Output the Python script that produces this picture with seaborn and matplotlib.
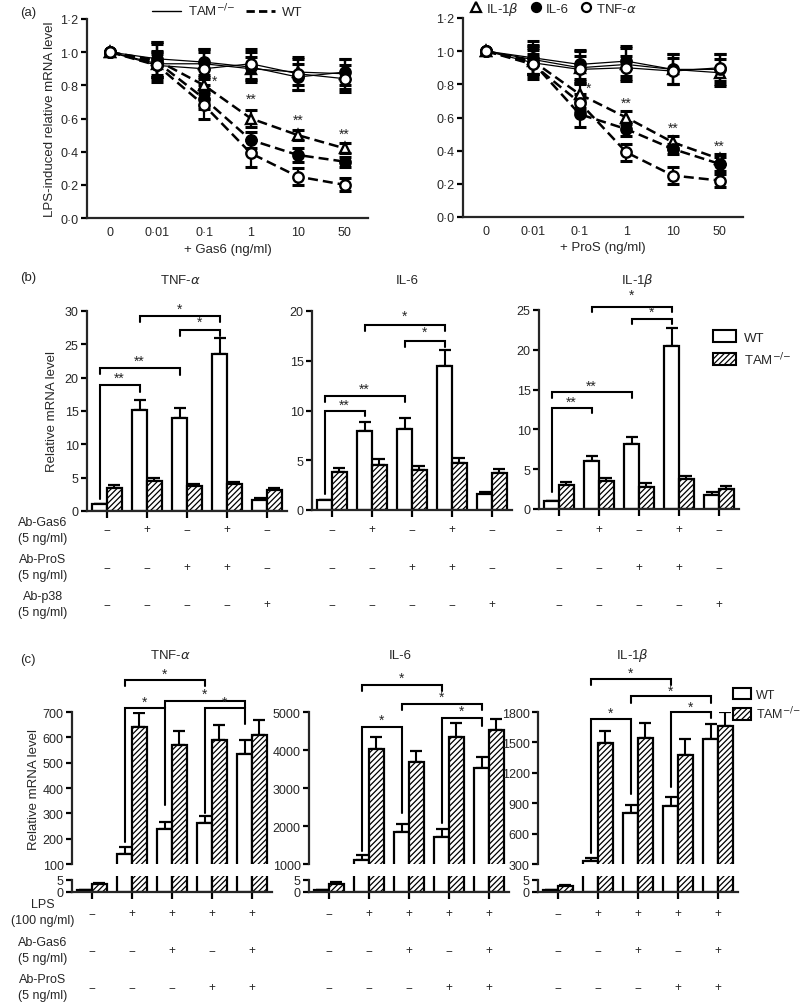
import numpy as np
import pandas as pd
import matplotlib
matplotlib.use('Agg')
import matplotlib.pyplot as plt
import matplotlib.transforms as mtransforms
from matplotlib.lines import Line2D
from matplotlib.patches import Patch
import seaborn as sns

sns.set_style('ticks')
plt.rcParams['font.family'] = ['Liberation Sans', 'DejaVu Sans']
plt.rcParams['hatch.linewidth'] = 0.9
plt.rcParams['axes.linewidth'] = 1.6

# ---------------- data: panel (a) ----------------
doses = ['0', '0·01', '0·1', '1', '10', '50']

gas6_wt_il1b = [1.0, 0.95, 0.80, 0.60, 0.50, 0.42]
gas6_wt_il1b_err = [0.0, 0.10, 0.05, 0.05, 0.03, 0.03]
gas6_wt_il6 = [1.0, 0.94, 0.72, 0.47, 0.38, 0.34]
gas6_wt_il6_err = [0.0, 0.12, 0.06, 0.05, 0.04, 0.03]
gas6_wt_tnf = [1.0, 0.92, 0.68, 0.39, 0.25, 0.20]
gas6_wt_tnf_err = [0.0, 0.08, 0.08, 0.08, 0.05, 0.04]
gas6_tam_il1b = [1.0, 0.93, 0.93, 0.90, 0.88, 0.87]
gas6_tam_il1b_err = [0.0, 0.08, 0.09, 0.07, 0.08, 0.09]
gas6_tam_il6 = [1.0, 0.96, 0.94, 0.91, 0.85, 0.88]
gas6_tam_il6_err = [0.0, 0.10, 0.08, 0.09, 0.08, 0.08]
gas6_tam_tnf = [1.0, 0.92, 0.90, 0.93, 0.87, 0.84]
gas6_tam_tnf_err = [0.0, 0.07, 0.10, 0.09, 0.10, 0.08]

pros_wt_il1b = [1.0, 0.94, 0.74, 0.60, 0.45, 0.35]
pros_wt_il1b_err = [0.0, 0.08, 0.08, 0.04, 0.04, 0.03]
pros_wt_il6 = [1.0, 0.93, 0.62, 0.53, 0.41, 0.32]
pros_wt_il6_err = [0.0, 0.10, 0.08, 0.04, 0.03, 0.04]
pros_wt_tnf = [1.0, 0.92, 0.69, 0.39, 0.25, 0.22]
pros_wt_tnf_err = [0.0, 0.06, 0.05, 0.05, 0.05, 0.04]
pros_tam_il1b = [1.0, 0.95, 0.90, 0.92, 0.89, 0.87]
pros_tam_il1b_err = [0.0, 0.09, 0.10, 0.10, 0.09, 0.08]
pros_tam_il6 = [1.0, 0.96, 0.92, 0.94, 0.89, 0.89]
pros_tam_il6_err = [0.0, 0.10, 0.09, 0.09, 0.09, 0.09]
pros_tam_tnf = [1.0, 0.93, 0.89, 0.90, 0.88, 0.90]
pros_tam_tnf_err = [0.0, 0.08, 0.08, 0.07, 0.08, 0.08]

gas6_stars = [(2.22, 0.83, '*'), (3, 0.72, '**'), (4, 0.59, '**'), (5, 0.51, '**')]
pros_stars = [(2.19, 0.78, '*'), (3, 0.69, '**'), (4, 0.54, '**'), (5, 0.43, '**')]

# ---------------- data: panel (b) ----------------
groups_b = ['g1', 'g2', 'g3', 'g4', 'g5']
b_tnf_wt = [1.0, 15.2, 14.0, 23.5, 1.7]
b_tnf_wt_err = [0.0, 1.5, 1.5, 2.5, 0.2]
b_tnf_tam = [3.5, 4.5, 3.7, 4.0, 3.2]
b_tnf_tam_err = [0.4, 0.5, 0.4, 0.4, 0.3]
b_il6_wt = [1.0, 7.9, 8.1, 14.5, 1.6]
b_il6_wt_err = [0.0, 0.9, 1.1, 1.6, 0.2]
b_il6_tam = [3.8, 4.5, 4.0, 4.7, 3.7]
b_il6_tam_err = [0.4, 0.6, 0.4, 0.5, 0.45]
b_il1b_wt = [1.0, 6.0, 8.2, 20.5, 1.8]
b_il1b_wt_err = [0.0, 0.6, 0.9, 2.3, 0.3]
b_il1b_tam = [3.0, 3.5, 2.8, 3.8, 2.5]
b_il1b_tam_err = [0.4, 0.4, 0.5, 0.4, 0.4]

b_gas6 = ['−', '+', '−', '+', '−']
b_pros = ['−', '−', '+', '+', '−']
b_p38 = ['−', '−', '−', '−', '+']

# brackets: (bar i, bar j, top, left end, right end, label, label y)
b_tnf_brackets = [(0, 1, 18.9, 1.8, 17.9, '**', 20.0), (0, 2, 21.5, 20.6, 20.4, '**', 22.6),
                  (1, 3, 29.2, 28.3, 28.3, '*', 30.4), (2, 3, 27.2, 26.3, 26.3, '*', 28.4)]
b_il6_brackets = [(0, 1, 10.0, 1.6, 9.4, '**', 10.6), (0, 2, 11.5, 10.9, 10.9, '**', 12.2),
                  (1, 3, 18.6, 18.0, 18.0, '*', 19.5), (2, 3, 17.0, 16.4, 16.4, '*', 17.9)]
b_il1b_brackets = [(0, 1, 12.7, 2.1, 12.0, '**', 13.5), (0, 2, 14.7, 13.9, 13.9, '**', 15.5),
                   (1, 3, 25.4, 24.7, 24.7, '*', 26.9), (2, 3, 23.9, 23.3, 23.3, '*', 24.8)]

# ---------------- data: panel (c) ----------------
c_tnf_wt = [0.8, 140, 240, 260, 535]
c_tnf_wt_err = [0.1, 28, 25, 30, 55]
c_tnf_tam = [3.3, 640, 570, 590, 610]
c_tnf_tam_err = [0.6, 55, 55, 60, 60]
c_il6_wt = [0.8, 1100, 1850, 1720, 3520]
c_il6_wt_err = [0.1, 130, 200, 200, 300]
c_il6_tam = [3.4, 4020, 3680, 4350, 4520]
c_il6_tam_err = [0.6, 320, 300, 350, 300]
c_il1b_wt = [0.8, 330, 800, 870, 1530]
c_il1b_wt_err = [0.1, 30, 80, 90, 150]
c_il1b_tam = [2.5, 1490, 1540, 1380, 1660]
c_il1b_tam_err = [0.4, 120, 150, 150, 140]

c_lps = ['−', '+', '+', '+', '+']
c_gas6 = ['−', '−', '+', '−', '+']
c_pros = ['−', '−', '−', '+', '+']

c_tnf_brackets = [(1, 3, 826, 803, 803, '*', 850), (2, 4, 742, 716, 716, '*', 772),
                  (1, 2, 716, 185, 331, '*', 742), (3, 4, 716, 300, 654, '*', 740)]
c_il6_brackets = [(1, 3, 5708, 5557, 5557, '*', 5910), (2, 4, 5204, 5044, 5044, '*', 5400),
                  (1, 2, 4611, 1350, 2354, '*', 4805), (3, 4, 4832, 2088, 4628, '*', 5030)]
c_il1b_brackets = [(1, 3, 2121, 2065, 2065, '*', 2187), (2, 4, 1956, 1889, 1889, '*', 2009),
                   (1, 2, 1734, 409, 989, '*', 1790), (3, 4, 1800, 1055, 1740, '*', 1856)]

TAM_LABEL = 'TAM$^{-/{-}}$'

# ---------------- layout helpers ----------------
W, H = 800, 1003
fig = plt.figure(figsize=(W / 100, H / 100), dpi=100)


def box(l, t, r, b):
    return [l / W, 1 - b / H, (r - l) / W, (b - t) / H]


def style_ax(ax):
    sns.despine(ax=ax)
    ax.tick_params(direction='out', length=4, width=1.6, labelsize=9, pad=2, color='black')
    for s in ax.spines.values():
        s.set_linewidth(1.6)


def draw_bracket(ax, xs, br):
    i, j, top, yl, yr, lab, ys = br
    ax.plot([xs[i], xs[i], xs[j], xs[j]], [yl, top, top, yr], color='black', lw=1.5,
            clip_on=False, solid_joinstyle='miter')
    ax.text((xs[i] + xs[j]) / 2, ys, lab, ha='center', va='center', fontsize=10, clip_on=False)


# ---------------- panel (a) ----------------
def plot_dose(ax, series, stars, xlabel):
    for vals, errs, marker, face, geno in series:
        d = pd.DataFrame({'dose': np.arange(len(doses)), 'value': vals})
        ax.errorbar(d['dose'], d['value'], yerr=errs, fmt='none', ecolor='black',
                    elinewidth=1.6, capsize=4.5, capthick=2.2, zorder=2)
        sns.lineplot(data=d, x='dose', y='value', ax=ax, color='black',
                     linewidth=1.8 if geno == 'WT' else 0.9,
                     linestyle=(0, (4, 2)) if geno == 'WT' else '-',
                     marker=marker, markersize=7.5, markerfacecolor=face,
                     markeredgecolor='black', markeredgewidth=1.7, zorder=3)
    for x, y, s in stars:
        ax.text(x, y, s, ha='center', va='center', fontsize=10)
    ax.set_xlim(-0.5, 5.5)
    ax.set_ylim(0, 1.2)
    ax.set_xticks(range(len(doses)))
    ax.set_xticklabels(doses)
    yt = np.round(np.arange(0, 1.21, 0.2), 1)
    ax.set_yticks(yt)
    ax.set_yticklabels([f'{v:.1f}'.replace('.', '·') for v in yt])
    ax.set_xlabel(xlabel, fontsize=9.5, labelpad=3)
    ax.set_ylabel('')
    style_ax(ax)
    ax.tick_params(axis='x', length=0, pad=6)


ax_a1 = fig.add_axes(box(87, 20, 368, 219))
plot_dose(ax_a1, [
    (gas6_tam_il1b, gas6_tam_il1b_err, '^', 'white', 'TAM'),
    (gas6_tam_il6, gas6_tam_il6_err, 'o', 'black', 'TAM'),
    (gas6_tam_tnf, gas6_tam_tnf_err, 'o', 'white', 'TAM'),
    (gas6_wt_il1b, gas6_wt_il1b_err, '^', 'white', 'WT'),
    (gas6_wt_il6, gas6_wt_il6_err, 'o', 'black', 'WT'),
    (gas6_wt_tnf, gas6_wt_tnf_err, 'o', 'white', 'WT'),
], gas6_stars, '+ Gas6 (ng/ml)')
ax_a1.set_ylabel('LPS-induced relative mRNA level', fontsize=9.5)
ax_a1.yaxis.set_label_coords(-0.112, 0.5)
ax_a1.legend(handles=[Line2D([], [], color='black', lw=1),
                      Line2D([], [], color='black', lw=2, ls=(0, (3, 1.5)))],
             labels=[TAM_LABEL, 'WT'], ncol=2, frameon=False, loc='center',
             bbox_to_anchor=(0.5, 1.045), handlelength=2.2, columnspacing=0.8,
             handletextpad=0.5, fontsize=9.5, borderaxespad=0)

ax_a2 = fig.add_axes(box(463, 19, 743, 218))
plot_dose(ax_a2, [
    (pros_tam_il1b, pros_tam_il1b_err, '^', 'white', 'TAM'),
    (pros_tam_il6, pros_tam_il6_err, 'o', 'black', 'TAM'),
    (pros_tam_tnf, pros_tam_tnf_err, 'o', 'white', 'TAM'),
    (pros_wt_il1b, pros_wt_il1b_err, '^', 'white', 'WT'),
    (pros_wt_il6, pros_wt_il6_err, 'o', 'black', 'WT'),
    (pros_wt_tnf, pros_wt_tnf_err, 'o', 'white', 'WT'),
], pros_stars, '+ ProS (ng/ml)')
mk = dict(ls='none', markeredgecolor='black', markeredgewidth=1.6, markersize=6.5)
ax_a2.legend(handles=[Line2D([], [], marker='^', markerfacecolor='white', **mk),
                      Line2D([], [], marker='o', markerfacecolor='black', **mk),
                      Line2D([], [], marker='o', markerfacecolor='white', **mk)],
             labels=['IL-1$\\beta$', 'IL-6', 'TNF-$\\alpha$'], ncol=3, frameon=False,
             loc='center', bbox_to_anchor=(0.325, 1.05), handlelength=0.8,
             columnspacing=0.9, handletextpad=0.35, fontsize=9.5, borderaxespad=0)

fig.text(28 / W, 1 - 13 / H, '(a)', fontsize=9.5, ha='center', va='center')


# ---------------- bar helper ----------------
def bars(ax, wt, wt_err, tam, tam_err):
    d = pd.DataFrame({'group': groups_b * 2,
                      'genotype': ['WT'] * 5 + ['TAM'] * 5,
                      'value': list(wt) + list(tam)})
    sns.barplot(data=d, x='group', y='value', hue='genotype', hue_order=['WT', 'TAM'],
                order=groups_b, palette={'WT': 'white', 'TAM': 'white'}, saturation=1,
                edgecolor='black', linewidth=1.6, width=0.74, errorbar=None,
                legend=False, ax=ax)
    for p in ax.containers[1]:
        p.set_hatch('//////')
    xs_wt = [p.get_x() + p.get_width() / 2 for p in ax.containers[0]]
    xs_tam = [p.get_x() + p.get_width() / 2 for p in ax.containers[1]]
    ax.errorbar(xs_wt, wt, yerr=[np.zeros(5), wt_err], fmt='none', ecolor='black',
                elinewidth=1.5, capsize=4, capthick=1.6, zorder=0.5)
    ax.errorbar(xs_tam, tam, yerr=[np.zeros(5), tam_err], fmt='none', ecolor='black',
                elinewidth=1.5, capsize=4, capthick=1.6, zorder=0.5)
    ax.set_xlabel('')
    ax.set_ylabel('')
    ax.set_xticklabels([])
    return xs_wt


def sign_rows(ax, rows):
    tr = mtransforms.blended_transform_factory(ax.transData, fig.transFigure)
    for signs, ypx in rows:
        for k, s in enumerate(signs):
            fig.text(k, 1 - ypx / H, s, transform=tr, ha='center', va='center', fontsize=8.5)


def row_labels(rows):
    for lab, ypx in rows:
        fig.text(43 / W, 1 - ypx / H, lab, ha='center', va='center', fontsize=9,
                 linespacing=1.5)


# ---------------- panel (b) ----------------
b_specs = [
    (box(87, 312, 287, 512), b_tnf_wt, b_tnf_wt_err, b_tnf_tam, b_tnf_tam_err, 30, b_tnf_brackets, 'TNF-$\\alpha$', 180),
    (box(312, 312, 512, 511), b_il6_wt, b_il6_wt_err, b_il6_tam, b_il6_tam_err, 20, b_il6_brackets, 'IL-6', 407),
    (box(539, 311, 739, 510), b_il1b_wt, b_il1b_wt_err, b_il1b_tam, b_il1b_tam_err, 25, b_il1b_brackets, 'IL-1$\\beta$', 637),
]
b_axes = []
for rect, wt, we, tam, te, ymax, brs, title, tx in b_specs:
    ax = fig.add_axes(rect)
    xs = bars(ax, wt, we, tam, te)
    ax.set_ylim(0, ymax)
    ax.set_yticks(np.arange(0, ymax + 1, 5))
    ax.set_xlim(-0.5, 4.5)
    style_ax(ax)
    ax.tick_params(axis='x', length=5)
    for br in brs:
        draw_bracket(ax, xs, br)
    fig.text(tx / W, 1 - 281 / H, title, ha='center', va='center', fontsize=9.5)
    sign_rows(ax, [(b_gas6, 530), (b_pros, 568), (b_p38, 605)])
    b_axes.append(ax)

b_axes[0].set_ylabel('Relative mRNA level', fontsize=9.5)
b_axes[0].yaxis.set_label_coords(-0.143, 0.5)
row_labels([('Ab-Gas6\n(5 ng/ml)', 531), ('Ab-ProS\n(5 ng/ml)', 568), ('Ab-p38\n(5 ng/ml)', 605)])
fig.text(28 / W, 1 - 278 / H, '(b)', fontsize=9.5, ha='center', va='center')

leg_handles = [Patch(facecolor='white', edgecolor='black', linewidth=1.5),
               Patch(facecolor='white', edgecolor='black', hatch='//////', linewidth=1.5)]
fig.legend(handles=leg_handles, labels=['WT', TAM_LABEL], loc='upper left',
           bbox_to_anchor=(708 / W, 1 - 326 / H), frameon=False, fontsize=9.5,
           handlelength=1.7, handleheight=1.0, handletextpad=0.6, labelspacing=0.5,
           borderaxespad=0)

# ---------------- panel (c) ----------------
c_specs = [
    (72, 272, c_tnf_wt, c_tnf_wt_err, c_tnf_tam, c_tnf_tam_err, (100, 700, 100), c_tnf_brackets, 'TNF-$\\alpha$', 170),
    (309, 509, c_il6_wt, c_il6_wt_err, c_il6_tam, c_il6_tam_err, (1000, 5000, 1000), c_il6_brackets, 'IL-6', 400),
    (538, 738, c_il1b_wt, c_il1b_wt_err, c_il1b_tam, c_il1b_tam_err, (300, 1800, 300), c_il1b_brackets, 'IL-1$\\beta$', 632),
]
c_top_axes = []
for l, r, wt, we, tam, te, (lo, hi, step), brs, title, tx in c_specs:
    ax_t = fig.add_axes(box(l, 713, r, 865))
    ax_b = fig.add_axes(box(l, 877, r, 893))
    xs = bars(ax_t, wt, we, tam, te)
    bars(ax_b, wt, we, tam, te)
    ax_t.set_ylim(lo, hi)
    ax_t.set_yticks(np.arange(lo, hi + 1, step))
    ax_t.set_xlim(-0.5, 4.5)
    style_ax(ax_t)
    ax_t.spines['bottom'].set_visible(False)
    ax_t.tick_params(axis='x', length=0)
    ax_b.set_ylim(0, 6.6)
    ax_b.set_yticks([0, 5])
    ax_b.set_xlim(-0.5, 4.5)
    style_ax(ax_b)
    ax_b.spines['left'].set_bounds(0, 5)
    ax_b.tick_params(axis='x', length=5)
    for br in brs:
        draw_bracket(ax_t, xs, br)
    fig.text(tx / W, 1 - 656 / H, title, ha='center', va='center', fontsize=9.5)
    sign_rows(ax_b, [(c_lps, 914), (c_gas6, 951), (c_pros, 988)])
    c_top_axes.append(ax_t)

c_top_axes[0].set_ylabel('Relative mRNA level', fontsize=9.5)
c_top_axes[0].yaxis.set_label_coords(-0.158, 0.5)
row_labels([('LPS\n(100 ng/ml)', 913), ('Ab-Gas6\n(5 ng/ml)', 951), ('Ab-ProS\n(5 ng/ml)', 988)])
fig.text(28 / W, 1 - 660 / H, '(c)', fontsize=9.5, ha='center', va='center')
fig.legend(handles=leg_handles, labels=['WT', TAM_LABEL], loc='upper left',
           bbox_to_anchor=(728 / W, 1 - 684 / H), frameon=False, fontsize=9,
           handlelength=1.4, handleheight=1.0, handletextpad=0.4, labelspacing=0.3,
           borderaxespad=0)

fig.savefig('out.png', dpi=100)
